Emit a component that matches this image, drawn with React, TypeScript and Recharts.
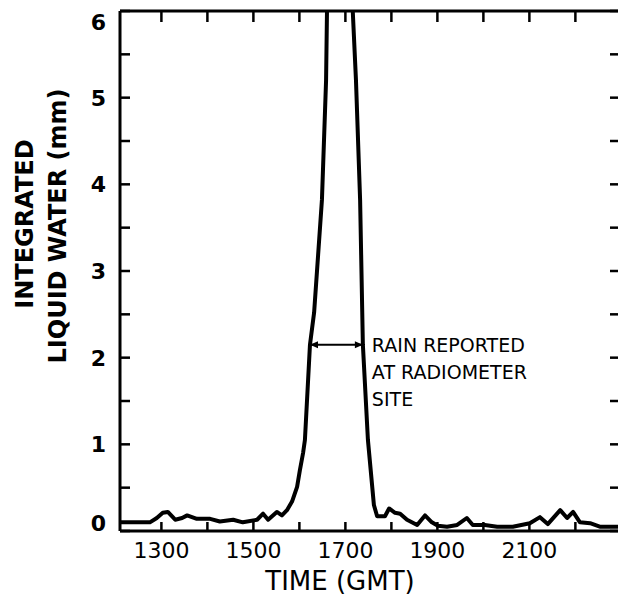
import { LineChart, Line, XAxis, YAxis, ReferenceLine } from "recharts";

// time (GMT, hhmm read as a linear scale) and integrated liquid water (mm)
const TIMES = [
  1210, 1275, 1290, 1303, 1314, 1330, 1345, 1356, 1377, 1406, 1427, 1456, 1477,
  1508, 1521, 1532, 1551, 1562, 1573, 1584, 1595, 1601, 1608, 1612, 1623, 1632,
  1649, 1658, 1660, 1690, 1716, 1723, 1732, 1738, 1749, 1762, 1769, 1786, 1795,
  1808, 1819, 1834, 1856, 1873, 1888, 1901, 1921, 1943, 1964, 1977, 2003, 2030,
  2064, 2101, 2123, 2140, 2167, 2182, 2195, 2210, 2232, 2253, 2297,
];
const WATER = [
  0.1, 0.1, 0.15, 0.21, 0.22, 0.13, 0.15, 0.18, 0.14, 0.14, 0.11, 0.13, 0.1,
  0.13, 0.2, 0.13, 0.22, 0.18, 0.24, 0.34, 0.51, 0.7, 0.9, 1.05, 2.15, 2.52,
  3.82, 5.2, 6, 9, 6, 5.2, 3.82, 2.15, 1.05, 0.3, 0.17, 0.17, 0.26,
  0.21, 0.2, 0.13, 0.07, 0.18, 0.1, 0.06, 0.05, 0.07, 0.15, 0.07, 0.07, 0.05,
  0.05, 0.09, 0.16, 0.08, 0.24, 0.15, 0.22, 0.1, 0.09, 0.05, 0.05,
];

const HOUR_TICKS = [1300, 1400, 1500, 1600, 1700, 1800, 1900, 2000, 2100, 2200];
const TIME_LABELS = [1300, 1500, 1700, 1900, 2100];
const WATER_TICKS = [0, 0.5, 1, 1.5, 2, 2.5, 3, 3.5, 4, 4.5, 5, 5.5, 6];

// rain interval marked by the double arrow
const RAIN_START = 1623;
const RAIN_END = 1738;
const RAIN_LEVEL = 2.15;
const NOTE_LINES = ["RAIN REPORTED", "AT RADIOMETER", "SITE"];

const data = TIMES.map((t, i) => ({ t, v: WATER[i] }));

const FONT = "'DejaVu Sans', sans-serif";
const INK = "#000";

function BottomTick({ x, y, payload }: any) {
  const v = payload.value;
  return (
    <g>
      <line x1={x} y1={y} x2={x} y2={y - 9} stroke={INK} strokeWidth={2.5} />
      {TIME_LABELS.includes(v) && (
        <text x={x} y={y + 27} textAnchor="middle" fontFamily={FONT} fontSize={22} fill={INK}>
          {v}
        </text>
      )}
    </g>
  );
}

function TopTick({ x, y }: any) {
  return <line x1={x} y1={y} x2={x} y2={y + 11} stroke={INK} strokeWidth={2.5} />;
}

function LeftTick({ x, y, payload }: any) {
  const v = payload.value;
  const shift = v === 6 ? 11 : v === 0 ? -8 : 0;
  return (
    <g>
      <line x1={x} y1={y} x2={x + 10} y2={y} stroke={INK} strokeWidth={2.5} />
      {Number.isInteger(v) && (
        <text
          x={x - 14}
          y={y + shift}
          dy="0.36em"
          textAnchor="end"
          fontFamily={FONT}
          fontWeight="bold"
          fontSize={22}
          fill={INK}
        >
          {v}
        </text>
      )}
    </g>
  );
}

function RightTick({ x, y }: any) {
  return <line x1={x} y1={y} x2={x - 10} y2={y} stroke={INK} strokeWidth={2.5} />;
}

function YTitle({ viewBox }: any) {
  const x0 = viewBox?.x ?? 0;
  return (
    <g fontFamily={FONT} fontWeight="bold" fontSize={24} fill={INK}>
      <text x={x0 + 25} y={224} textAnchor="middle" dominantBaseline="central" transform={`rotate(-90 ${x0 + 25} 224)`}>
        INTEGRATED
      </text>
      <text x={x0 + 58} y={226} textAnchor="middle" dominantBaseline="central" transform={`rotate(-90 ${x0 + 58} 226)`}>
        LIQUID WATER (mm)
      </text>
    </g>
  );
}

function XTitle({ viewBox }: any) {
  const { x, y } = viewBox;
  return (
    <text x={x + 220} y={y + 59} textAnchor="middle" fontFamily={FONT} fontSize={26} fill={INK}>
      TIME (GMT)
    </text>
  );
}

function RainArrow({ x1, y1, x2, y2 }: any) {
  const h = 3.5;
  const len = 8;
  return (
    <g>
      <line x1={x1} y1={y1} x2={x2} y2={y2} stroke={INK} strokeWidth={2} />
      <polygon points={`${x1},${y1} ${x1 + len},${y1 - h} ${x1 + len},${y1 + h}`} fill={INK} />
      <polygon points={`${x2},${y2} ${x2 - len},${y2 - h} ${x2 - len},${y2 + h}`} fill={INK} />
      {NOTE_LINES.map((s, i) => (
        <text key={s} x={x2 + 9} y={y2 + 7 + i * 27} fontFamily={FONT} fontSize={19} fill={INK}>
          {s}
        </text>
      ))}
    </g>
  );
}

export default function App() {
  return (
    <div
      style={{
        position: "absolute",
        left: 0,
        top: 0,
        width: 618,
        height: 609,
        overflow: "hidden",
        background: "#fff",
      }}
    >
      <LineChart width={640} height={609} data={data} margin={{ top: 10, right: 0, bottom: 0, left: 0 }}>
        <XAxis
          dataKey="t"
          type="number"
          domain={[1210, 2297]}
          allowDataOverflow
          ticks={HOUR_TICKS}
          interval={0}
          tick={(p: any) => <BottomTick {...p} />}
          tickLine={false}
          tickSize={0}
          tickMargin={0}
          height={78}
          axisLine={{ stroke: INK, strokeWidth: 3 }}
          label={(p: any) => <XTitle {...p} />}
        />
        <XAxis
          xAxisId="top"
          orientation="top"
          dataKey="t"
          type="number"
          domain={[1210, 2297]}
          allowDataOverflow
          ticks={HOUR_TICKS}
          interval={0}
          tick={(p: any) => <TopTick {...p} />}
          tickLine={false}
          tickSize={0}
          tickMargin={0}
          height={1}
          axisLine={{ stroke: INK, strokeWidth: 3 }}
        />
        <YAxis
          type="number"
          domain={[0, 6]}
          allowDataOverflow
          ticks={WATER_TICKS}
          interval={0}
          tick={(p: any) => <LeftTick {...p} />}
          tickLine={false}
          tickSize={0}
          tickMargin={0}
          width={120}
          axisLine={{ stroke: INK, strokeWidth: 3 }}
          label={(p: any) => <YTitle {...p} />}
        />
        <YAxis
          yAxisId="right"
          orientation="right"
          type="number"
          domain={[0, 6]}
          allowDataOverflow
          ticks={WATER_TICKS}
          interval={0}
          tick={(p: any) => <RightTick {...p} />}
          tickLine={false}
          tickSize={0}
          tickMargin={0}
          width={20}
          axisLine={false}
        />
        <Line
          type="linear"
          dataKey="v"
          stroke={INK}
          strokeWidth={4}
          strokeLinejoin="round"
          dot={false}
          isAnimationActive={false}
        />
        <ReferenceLine
          segment={[
            { x: RAIN_START, y: RAIN_LEVEL },
            { x: RAIN_END, y: RAIN_LEVEL },
          ]}
          shape={(p: any) => <RainArrow {...p} />}
        />
      </LineChart>
    </div>
  );
}
